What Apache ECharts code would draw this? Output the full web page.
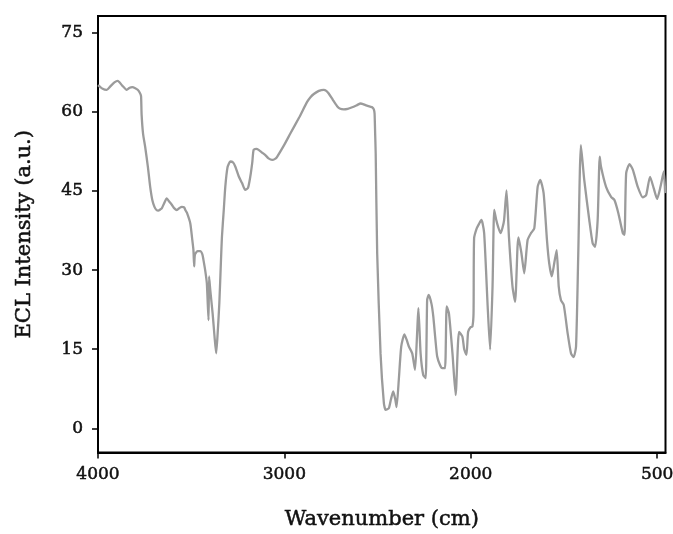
<!DOCTYPE html>
<html>
<head>
<meta charset="utf-8">
<script src="https://cdn.jsdelivr.net/npm/echarts@6/dist/echarts.min.js"></script>
<style>
  html, body { margin: 0; padding: 0; background: #fff; }
  #chart { width: 673px; height: 534px; }
</style>
</head>
<body>
<div id="chart"></div>
<script>
// Wavenumber (x) and ECL intensity (y)
const wavenumber = [
  4000, 3975, 3953, 3935, 3912, 3894, 3870, 3846, 3830, 3816, 3800, 3787, 3775, 3769,
  3766, 3758, 3747, 3732, 3720, 3708, 3697, 3686, 3676, 3666, 3658, 3645, 3631, 3618,
  3604, 3590, 3577, 3562, 3550, 3538, 3530, 3523, 3505, 3495, 3488, 3484, 3480, 3466,
  3452, 3440, 3434, 3425, 3416, 3407, 3404, 3397, 3385, 3375, 3366, 3358, 3349, 3340,
  3335, 3325, 3317, 3305, 3290, 3275, 3263, 3245, 3227, 3210, 3195, 3183, 3172, 3165,
  3150, 3138, 3120, 3102, 3085, 3066, 3050, 3039, 3000, 2968, 2920, 2878, 2860, 2842,
  2815, 2789, 2775, 2762, 2740, 2717, 2700, 2681, 2660, 2636, 2610, 2591, 2578, 2565,
  2540, 2529, 2520, 2516, 2513, 2510, 2502, 2484, 2466, 2457, 2448, 2439, 2428, 2416,
  2405, 2398, 2386, 2373, 2356, 2344, 2332, 2314, 2299, 2287, 2281, 2269, 2255, 2242,
  2234, 2229, 2225, 2210, 2201, 2190, 2180, 2165, 2153, 2138, 2129, 2117, 2098, 2081,
  2063, 2045, 2035, 2023, 2014, 2000, 1991, 1985, 1982, 1968, 1955, 1943, 1936, 1928,
  1918, 1910, 1896, 1883, 1874, 1863, 1853, 1840, 1830, 1821, 1808, 1795, 1776, 1762,
  1749, 1744, 1728, 1713, 1695, 1677, 1659, 1641, 1627, 1609, 1591, 1579, 1565, 1552,
  1539, 1528, 1516, 1501, 1480, 1462, 1448, 1435, 1423, 1409, 1391, 1364, 1346, 1333,
  1319, 1308, 1301, 1274, 1247, 1229, 1208, 1184, 1175, 1166, 1148, 1130, 1104, 1077,
  1059, 1038, 1018, 1000, 982, 964, 957
];
const intensity = [
  65.1, 64.4, 64.2, 64.8, 65.6, 65.9, 65.0, 64.2, 64.6, 64.7, 64.5, 64.2, 63.6, 63.0,
  59.5, 55.8, 53.4, 49.5, 45.8, 43.2, 42.0, 41.4, 41.3, 41.5, 41.7, 42.7, 43.6, 43.0,
  42.4, 41.7, 41.4, 41.8, 42.0, 41.9, 41.3, 40.9, 38.9, 36.0, 33.8, 30.7, 32.9, 33.6,
  33.6, 33.0, 31.9, 30.0, 27.5, 20.5, 28.8, 26.0, 21.8, 17.5, 14.2, 18.0, 23.7, 32.0,
  36.3, 41.5, 45.8, 49.5, 50.6, 50.4, 49.6, 47.8, 46.5, 45.2, 45.6, 47.7, 50.5, 52.8,
  53.0, 52.8, 52.3, 51.8, 51.2, 50.9, 51.1, 51.5, 53.8, 55.9, 59.0, 61.9, 62.8, 63.4,
  64.0, 64.2, 64.0, 63.5, 62.3, 61.1, 60.6, 60.5, 60.6, 60.9, 61.3, 61.6, 61.5, 61.3,
  61.0, 60.9, 60.5, 59.7, 56.0, 52.1, 33.2, 14.2, 4.7, 3.5, 3.6, 3.8, 5.5, 7.0,
  5.5, 4.0, 9.2, 15.5, 17.8, 16.8, 15.5, 14.2, 11.1, 18.6, 22.8, 14.2, 10.1, 9.5,
  24.3, 25.0, 25.3, 23.5, 21.2, 17.0, 13.6, 12.0, 11.4, 11.4, 23.1, 21.8, 14.2, 6.3,
  18.3, 17.4, 15.0, 13.9, 18.3, 19.2, 19.3, 21.8, 36.0, 37.9, 38.8, 39.5, 38.8, 37.0,
  30.0, 23.7, 14.9, 26.9, 41.4, 39.5, 38.2, 37.0, 38.0, 39.5, 45.1, 36.3, 26.9, 24.0,
  34.4, 36.2, 33.2, 29.4, 35.7, 37.0, 37.9, 45.8, 47.1, 44.6, 35.7, 31.3, 28.8, 31.3,
  33.8, 26.9, 24.3, 23.4, 18.0, 14.2, 13.5, 15.5, 33.2, 53.7, 47.1, 39.5, 35.1, 34.4,
  39.5, 51.5, 49.6, 45.8, 43.9, 43.3, 40.8, 37.0, 36.7, 48.4, 50.1, 49.0, 45.8, 43.8,
  44.2, 47.7, 45.5, 43.5, 45.8, 48.7, 44.6
];
const xTickValues = [4000, 3000, 2000, 1000];
const xTickLabels = ['4000', '3000', '2000', '500'];
const yTickValues = [0, 15, 30, 45, 60, 75];
const yTickLabels = ['0', '15', '30', '45', '60', '75'];

const seriesData = wavenumber.map((w, i) => [w, intensity[i]]);
const fontFam = '"DejaVu Serif", "Liberation Serif", serif';
const textBold = { textBorderColor: '#111', textBorderWidth: 0.5 };

const chart = echarts.init(document.getElementById('chart'), null, { renderer: 'canvas', width: 673, height: 534 });
chart.setOption({
  animation: false,
  backgroundColor: '#ffffff',
  grid: {
    left: 98, top: 16, width: 567.5, height: 436.5,
    containLabel: false,
    outerBoundsMode: 'none',
    show: true, borderColor: '#000', borderWidth: 2, backgroundColor: '#fff'
  },
  xAxis: {
    type: 'value',
    inverse: true,
    min: 955, max: 4000,
    name: 'Wavenumber (cm)',
    nameLocation: 'middle',
    nameGap: 57,
    nameTextStyle: Object.assign({ fontFamily: fontFam, fontSize: 21, color: '#111' }, textBold),
    axisLine: { show: true, onZero: false, lineStyle: { color: '#000', width: 2 } },
    axisTick: { show: true, length: 6, customValues: xTickValues, lineStyle: { color: '#000', width: 1.5 } },
    axisLabel: Object.assign({
      customValues: xTickValues,
      margin: 14,
      hideOverlap: false,
      fontFamily: fontFam, fontSize: 17, color: '#111',
      formatter: v => xTickLabels[xTickValues.indexOf(v)] ?? ''
    }, textBold),
    splitLine: { show: false }
  },
  yAxis: {
    type: 'value',
    min: -4.6, max: 78.2,
    name: 'ECL Intensity (a.u.)',
    nameLocation: 'middle',
    nameGap: 63,
    nameTextStyle: Object.assign({ fontFamily: fontFam, fontSize: 21, color: '#111' }, textBold),
    axisLine: { show: true, onZero: false, lineStyle: { color: '#000', width: 2 } },
    axisTick: { show: true, length: 6, customValues: yTickValues, lineStyle: { color: '#000', width: 1.5 } },
    axisLabel: Object.assign({
      customValues: yTickValues,
      margin: 15,
      fontFamily: fontFam, fontSize: 17, color: '#111',
      formatter: v => yTickLabels[yTickValues.indexOf(v)] ?? ''
    }, textBold),
    splitLine: { show: false }
  },
  series: [{
    type: 'line',
    data: seriesData,
    showSymbol: false,
    smooth: 0.2,
    clip: true,
    lineStyle: { color: '#9b9b9b', width: 2.3 }
  }]
});
</script>
</body>
</html>
